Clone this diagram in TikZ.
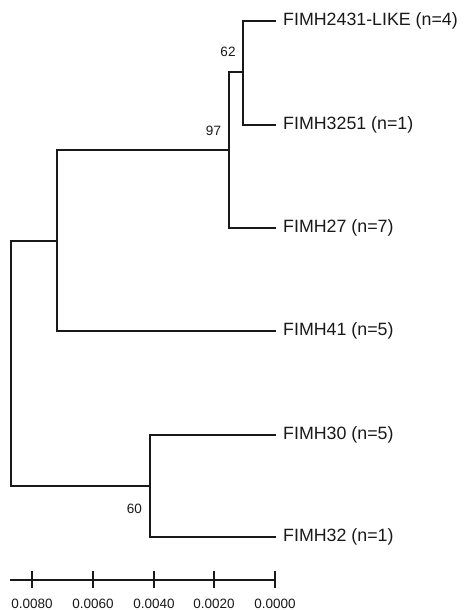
\documentclass[tikz,border=0pt]{standalone}
\usepackage{fontspec}
\setmainfont{Liberation Sans}
\begin{document}
\begin{tikzpicture}[x=1pt,y=-1pt,
  branch/.style={line width=1.1pt, draw=black!90, line cap=rect},
  leaflabel/.style={anchor=west, inner sep=0pt, font=\fontsize{17.8}{20}\selectfont, text=black!90},
  support/.style={inner sep=0pt, font=\fontsize{13.5}{15}\selectfont, text=black!90},
  scalelabel/.style={inner sep=0pt, font=\fontsize{13.5}{15}\selectfont, text=black!90}]
\useasboundingbox (0,0) rectangle (463,610);

% internal nodes (x = branching point, y = where the parent edge joins)
\coordinate (root) at (11,363);
\coordinate (A) at (57,241);
\coordinate (B) at (229,150);
\coordinate (C) at (243,72);
\coordinate (D) at (150,486);

% leaf tips
\coordinate (L1) at (275,21);
\coordinate (L2) at (275,125);
\coordinate (L3) at (275,228);
\coordinate (L4) at (275,331);
\coordinate (L5) at (275,435);
\coordinate (L6) at (275,537);

% branches
\draw[branch] (A) -| (root) |- (D);
\draw[branch] (B) -| (A) |- (L4);
\draw[branch] (C) -| (B) |- (L3);
\draw[branch] (L1) -| (C) |- (L2);
\draw[branch] (L5) -| (D) |- (L6);

% leaf labels
\node[leaflabel] (t1) at (283,21) {FIMH2431-LIKE (n=4)};
\node[leaflabel] (t2) at (283,125) {FIMH3251 (n=1)};
\node[leaflabel] (t3) at (283,228) {FIMH27 (n=7)};
\node[leaflabel] (t4) at (283,331) {FIMH41 (n=5)};
\node[leaflabel] (t5) at (283,435) {FIMH30 (n=5)};
\node[leaflabel] (t6) at (283,537) {FIMH32 (n=1)};

% bootstrap support
\node[support] (s62) at (228,52) {62};
\node[support] (s97) at (213.5,131) {97};
\node[support] (s60) at (134.5,509) {60};

% scale bar
\coordinate (sbL) at (11,580);
\coordinate (sbR) at (275,580);
\draw[branch] (sbL) -- (sbR);
\foreach \x/\lab [count=\i] in {32/0.0080, 93/0.0060, 154/0.0040, 214/0.0020, 275/0.0000} {
  \draw[branch] (\x,572) -- (\x,587);
  \node[scalelabel] (sc\i) at (\x,604) {\lab};
}
\end{tikzpicture}
\end{document}
